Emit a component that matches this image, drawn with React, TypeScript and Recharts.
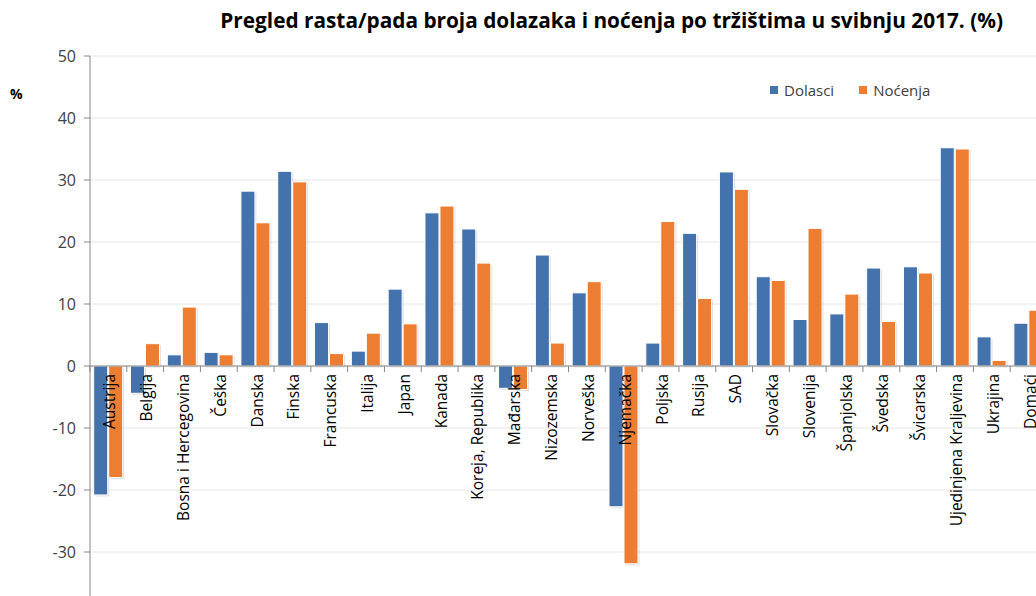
import React from "react";
import {
  BarChart,
  Bar,
  XAxis,
  YAxis,
  CartesianGrid,
  ReferenceLine,
} from "recharts";

const categories = [
  "Austrija",
  "Belgija",
  "Bosna i Hercegovina",
  "Češka",
  "Danska",
  "Finska",
  "Francuska",
  "Italija",
  "Japan",
  "Kanada",
  "Koreja, Republika",
  "Mađarska",
  "Nizozemska",
  "Norveška",
  "Njemačka",
  "Poljska",
  "Rusija",
  "SAD",
  "Slovačka",
  "Slovenija",
  "Španjolska",
  "Švedska",
  "Švicarska",
  "Ujedinjena Kraljevina",
  "Ukrajina",
  "Domaći",
];

const dolasci = [
  -20.8, -4.4, 1.8, 2.2, 28.2, 31.4, 7.0, 2.4, 12.4, 24.7, 22.1, -3.6, 17.9,
  11.8, -22.7, 3.7, 21.4, 31.3, 14.4, 7.5, 8.4, 15.8, 16.0, 35.2, 4.7, 6.9,
];

const nocenja = [
  -18.0, 3.6, 9.5, 1.8, 23.1, 29.7, 2.0, 5.3, 6.8, 25.8, 16.6, -3.8, 3.7,
  13.6, -31.9, 23.3, 10.9, 28.5, 13.8, 22.2, 11.6, 7.2, 15.0, 35.0, 0.9, 9.0,
];

const yTicks = [-30, -20, -10, 0, 10, 20, 30, 40, 50];

const seriesNames = ["Dolasci", "Noćenja"];
const seriesColors = ["#4472AC", "#ED7D31"];

const title =
  "Pregled rasta/pada broja dolazaka i noćenja po tržištima u svibnju 2017. (%)";

const data = categories.map((c, i) => ({
  name: c,
  dolasci: dolasci[i],
  nocenja: nocenja[i],
}));

const CHART_W = 1060;
const CHART_H = 640;
const X_AXIS_H = 1;
const MARGIN = { top: 56, right: 13, bottom: 25, left: 0 };
const Y_AXIS_W = 90;
const Y_MIN = -40;
const Y_MAX = 50;
const PLOT_TOP = MARGIN.top;
const PLOT_BOTTOM = CHART_H - MARGIN.bottom - X_AXIS_H;
const PLOT_W = CHART_W - MARGIN.right - MARGIN.left - Y_AXIS_W;
const BAND = PLOT_W / categories.length;
const ZERO_Y =
  PLOT_TOP + ((Y_MAX - 0) / (Y_MAX - Y_MIN)) * (PLOT_BOTTOM - PLOT_TOP);

const FONT = "'Open Sans', 'DejaVu Sans', sans-serif";
const TEXT_COLOR = "#404040";
const AXIS_COLOR = "#868686";

const CategoryTick = (props: any) => {
  const { x, payload, index } = props;
  const isLast = index === categories.length - 1;
  return (
    <g>
      <line
        x1={x - BAND / 2}
        x2={x - BAND / 2}
        y1={ZERO_Y}
        y2={ZERO_Y + 6}
        stroke={AXIS_COLOR}
        strokeWidth={1}
      />
      {isLast && (
        <line
          x1={x + BAND / 2}
          x2={x + BAND / 2}
          y1={ZERO_Y}
          y2={ZERO_Y + 6}
          stroke={AXIS_COLOR}
          strokeWidth={1}
        />
      )}
      <text
        transform={`translate(${x + 7},${ZERO_Y + 8}) rotate(-90)`}
        textAnchor="end"
        fontSize={15.5}
        fontFamily={FONT}
        fill="#000"
      >
        {payload.value}
      </text>
    </g>
  );
};

const ShadowBar = (props: any) => {
  const { x, y, width, height, fill } = props;
  if (width == null || height == null) return null;
  const top = Math.min(y, y + height);
  const h = Math.abs(height);
  return (
    <g>
      <rect
        x={x + 1.5}
        y={top + 1.5}
        width={width}
        height={h}
        fill="rgba(0,0,0,0.12)"
      />
      <rect
        x={x}
        y={top}
        width={width}
        height={h}
        fill={fill}
        stroke="#ffffff"
        strokeWidth={1}
      />
    </g>
  );
};

const LegendBox = () => (
  <div
    style={{
      position: "absolute",
      left: 770,
      top: 80,
      display: "flex",
      alignItems: "center",
      fontFamily: FONT,
      fontSize: 15,
      color: TEXT_COLOR,
      whiteSpace: "nowrap",
    }}
  >
    {seriesNames.map((n, i) => (
      <div
        key={n}
        style={{
          display: "flex",
          alignItems: "center",
          marginRight: i === 0 ? 25 : 0,
        }}
      >
        <span
          style={{
            display: "inline-block",
            width: 8,
            height: 8,
            background: seriesColors[i],
            marginRight: 6,
          }}
        />
        <span>{n}</span>
      </div>
    ))}
  </div>
);

export default function App() {
  return (
    <div
      style={{
        position: "absolute",
        left: 0,
        top: 0,
        width: 1036,
        height: 596,
        overflow: "hidden",
        background: "#ffffff",
      }}
    >
      <BarChart
        width={CHART_W}
        height={CHART_H}
        data={data}
        margin={MARGIN}
        barCategoryGap="10%"
        barGap={1}
        style={{ position: "absolute", left: 0, top: 0 }}
      >
        <CartesianGrid vertical={false} stroke="#E6E6E6" strokeWidth={1} />
        <XAxis
          dataKey="name"
          height={X_AXIS_H}
          axisLine={false}
          tickLine={false}
          interval={0}
          tick={<CategoryTick />}
        />
        <YAxis
          width={Y_AXIS_W}
          domain={[Y_MIN, Y_MAX]}
          ticks={yTicks}
          interval={0}
          axisLine={{ stroke: AXIS_COLOR, strokeWidth: 1 }}
          tickLine={{ stroke: AXIS_COLOR, strokeWidth: 1 }}
          tickSize={6}
          tickMargin={8}
          tick={{ fill: TEXT_COLOR, fontSize: 16, fontFamily: FONT }}
        />
        <Bar
          dataKey="dolasci"
          name={seriesNames[0]}
          fill={seriesColors[0]}
          shape={<ShadowBar />}
          isAnimationActive={false}
        />
        <Bar
          dataKey="nocenja"
          name={seriesNames[1]}
          fill={seriesColors[1]}
          shape={<ShadowBar />}
          isAnimationActive={false}
        />
        <ReferenceLine y={0} stroke={AXIS_COLOR} strokeWidth={1} />
      </BarChart>
      <div
        style={{
          position: "absolute",
          right: 33,
          top: 6,
          fontFamily: FONT,
          fontWeight: 700,
          fontSize: 20.8,
          color: "#000",
          whiteSpace: "nowrap",
        }}
      >
        {title}
      </div>
      <div
        style={{
          position: "absolute",
          left: 10,
          top: 84,
          fontFamily: FONT,
          fontWeight: 700,
          fontSize: 14,
          color: "#000",
        }}
      >
        %
      </div>
      <LegendBox />
    </div>
  );
}
